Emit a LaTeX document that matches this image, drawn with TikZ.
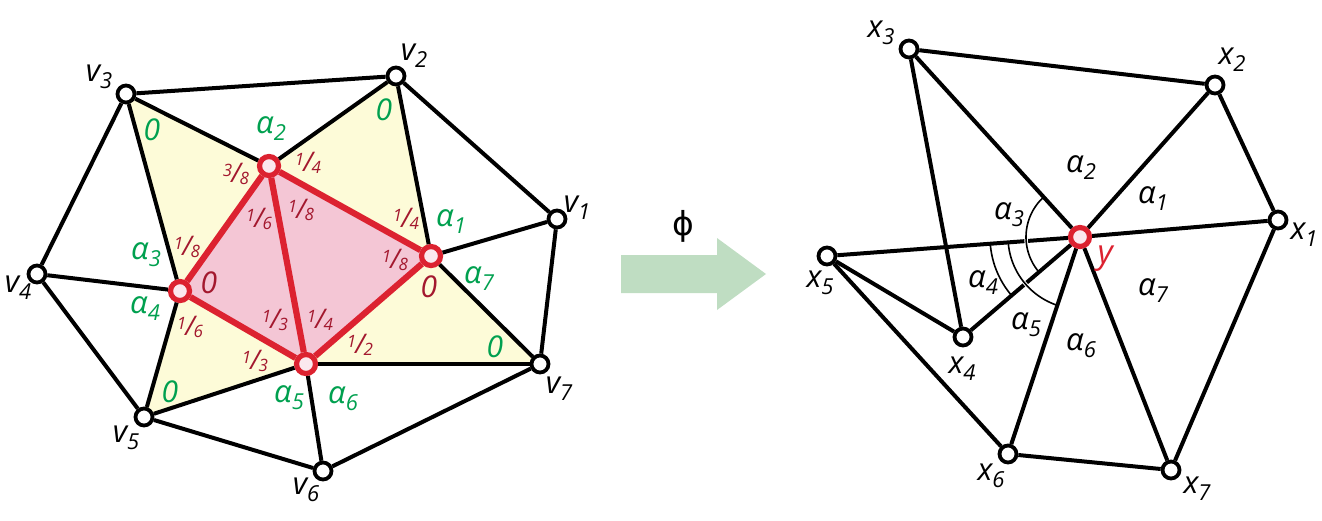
\documentclass[tikz,border=0pt]{standalone}
\usepackage{fontspec}
\setmainfont{Open Sans}
\newfontfamily\phifont{DejaVu Sans}
\usetikzlibrary{backgrounds}
\definecolor{grn}{HTML}{00A04F}
\definecolor{dred}{HTML}{A3182E}
\definecolor{rd}{HTML}{DC2230}
\definecolor{yel}{HTML}{FDFBD8}
\definecolor{pnk}{HTML}{F4C6D5}
\definecolor{arrowg}{HTML}{BFDDC2}
\newcommand{\lbl}[2]{\textit{\fontsize{31}{31}\selectfont #1\raisebox{-7pt}{\fontsize{22}{22}\selectfont #2}}}
\newcommand{\frc}[2]{\textit{\fontsize{17}{17}\selectfont\raisebox{4pt}{#1}\kern-1pt\raisebox{-2.5pt}{\fontsize{27}{27}\selectfont /}\kern-1pt\raisebox{-4pt}{#2}}}
\tikzset{
  vtx/.style={circle,draw=black,fill=white,line width=3.8pt,minimum size=17pt,inner sep=0pt},
  hub/.style={circle,draw=rd,fill=pnk!40!white,line width=5.2pt,minimum size=19pt,inner sep=0pt},
  edge/.style={draw=black,line width=4pt},
  redge/.style={draw=rd,line width=6.2pt},
  thin arc/.style={draw=black,line width=1.6pt},
  halo/.style={draw=white,line width=3.5pt},
  txt/.style={inner sep=0pt,black},
  glab/.style={inner sep=0pt,text=grn},
  flab/.style={inner sep=0pt,text=dred},
  rlab/.style={inner sep=0pt,text=rd},
  zero/.style={inner sep=0pt,font=\itshape\fontsize{30}{30}\selectfont}
}
\begin{document}
\begin{tikzpicture}[x=1pt,y=-1pt]
\useasboundingbox (0,0) rectangle (1322,520);
% left nodes
\node[vtx] (v1) at (557,219) {};
\node[vtx] (v2) at (396,76) {};
\node[vtx] (v3) at (126,94) {};
\node[vtx] (v4) at (37,274) {};
\node[vtx] (v5) at (144,417) {};
\node[vtx] (v6) at (323,471) {};
\node[vtx] (v7) at (540,364) {};
\node[hub] (a2) at (269,166) {};
\node[hub] (a1) at (431,256) {};
\node[hub] (a5) at (306,364) {};
\node[hub] (a3) at (180,291) {};
\begin{scope}[on background layer]
\fill[yel] (v3.center) -- (a2.center) -- (v2.center) -- (a1.center) -- (v7.center) -- (a5.center) -- (v5.center) -- (a3.center) -- cycle;
\fill[pnk] (a2.center) -- (a1.center) -- (a5.center) -- (a3.center) -- cycle;
\end{scope}
\foreach \p/\q in {v3/v2,v2/v1,v1/v7,v7/v6,v6/v5,v5/v4,v4/v3,v3/a2,v2/a2,v2/a1,v1/a1,v7/a1,v7/a5,v6/a5,v5/a5,v5/a3,v4/a3,v3/a3}
  \draw[edge] (\p) -- (\q);
\foreach \p/\q in {a2/a1,a1/a5,a5/a3,a3/a2,a2/a5}
  \draw[redge] (\p) -- (\q);
% left labels
\node[txt] (lv1) at (577,208) {\lbl{v}{1}};
\node[txt] (lv2) at (414,56) {\lbl{v}{2}};
\node[txt] (lv3) at (99,77) {\lbl{v}{3}};
\node[txt] (lv4) at (18,288) {\lbl{v}{4}};
\node[txt] (lv5) at (126,438) {\lbl{v}{5}};
\node[txt] (lv6) at (306,490) {\lbl{v}{6}};
\node[txt] (lv7) at (559,389) {\lbl{v}{7}};
\node[glab] (g1) at (451,222) {\lbl{α}{1}};
\node[glab] (g2) at (271,129) {\lbl{α}{2}};
\node[glab] (g3) at (146,255) {\lbl{α}{3}};
\node[glab] (g4) at (145,309) {\lbl{α}{4}};
\node[glab] (g5) at (289,398) {\lbl{α}{5}};
\node[glab] (g6) at (343,399) {\lbl{α}{6}};
\node[glab] (g7) at (479,279) {\lbl{α}{7}};
\node[glab,zero] (z1) at (152,130) {0};
\node[glab,zero] (z2) at (384,110) {0};
\node[glab,zero] (z3) at (495,347) {0};
\node[glab,zero] (z4) at (170,392) {0};
\node[flab,zero] (z5) at (429,287) {0};
\node[flab,zero] (z6) at (209,283) {0};
\node[flab] (f1) at (236,174) {\frc{3}{8}};
\node[flab] (f2) at (308,163) {\frc{1}{4}};
\node[flab] (f3) at (259,219) {\frc{1}{6}};
\node[flab] (f4) at (301,210) {\frc{1}{8}};
\node[flab] (f5) at (406,219) {\frc{1}{4}};
\node[flab] (f6) at (395,260) {\frc{1}{8}};
\node[flab] (f7) at (187,247) {\frc{1}{8}};
\node[flab] (f8) at (190,327) {\frc{1}{6}};
\node[flab] (f9) at (275,320) {\frc{1}{3}};
\node[flab] (f10) at (320,320) {\frc{1}{4}};
\node[flab] (f11) at (360,345) {\frc{1}{2}};
\node[flab] (f12) at (255,361) {\frc{1}{3}};
% arrow
\fill[arrowg] (621,255) -- (717,255) -- (717,238) -- (766,274) -- (717,310) -- (717,293) -- (621,293) -- cycle;
\node[txt] (phi) at (683,226) {\phifont\fontsize{33}{33}\selectfont ϕ};
% right nodes
\node[vtx] (x1) at (1278,220) {};
\node[vtx] (x2) at (1215,85) {};
\node[vtx] (x3) at (909,49) {};
\node[vtx] (x4) at (963,337) {};
\node[vtx] (x5) at (827,256) {};
\node[vtx] (x6) at (1008,454) {};
\node[vtx] (x7) at (1171,470) {};
\node[hub] (y) at (1080,237) {};
\foreach \p/\q in {x3/x2,x2/x1,x1/x7,x7/x6,x6/x5,x5/x4,x4/x3,x3/y,x2/y,x1/y,x7/y,x6/y,x5/y,x4/y}
  \draw[edge] (\p) -- (\q);
% angle arcs
\draw[halo] plot[domain=170:181,samples=6] ({1080+54*cos(\x)},{237+54*sin(\x)});
\draw[halo] plot[domain=134:145,samples=6] ({1080+72*cos(\x)},{237+72*sin(\x)});
\draw[thin arc] plot[domain=139.5:227.7,samples=40,smooth] ({1080+54*cos(\x)},{237+54*sin(\x)});
\draw[thin arc] plot[domain=139.5:175.7,samples=30,smooth] ({1080+90*cos(\x)},{237+90*sin(\x)});
\draw[thin arc] plot[domain=108.4:175.7,samples=40,smooth] ({1080+72*cos(\x)},{237+72*sin(\x)});
% right labels
\node[txt] (lx1) at (1304,235) {\lbl{x}{1}};
\node[txt] (lx2) at (1232,60) {\lbl{x}{2}};
\node[txt] (lx3) at (881,33) {\lbl{x}{3}};
\node[txt] (lx4) at (962,369) {\lbl{x}{4}};
\node[txt] (lx5) at (820,283) {\lbl{x}{5}};
\node[txt] (lx6) at (991,476) {\lbl{x}{6}};
\node[txt] (lx7) at (1197,489) {\lbl{x}{7}};
\node[rlab] (ly) at (1106,259) {\textit{\fontsize{33}{33}\selectfont y}};
\node[txt] (b1) at (1153,199) {\lbl{α}{1}};
\node[txt] (b2) at (1081,168) {\lbl{α}{2}};
\node[txt] (b3) at (1009,215) {\lbl{α}{3}};
\node[txt] (b4) at (983,283) {\lbl{α}{4}};
\node[txt] (b5) at (1026,325) {\lbl{α}{5}};
\node[txt] (b6) at (1081,346) {\lbl{α}{6}};
\node[txt] (b7) at (1153,291) {\lbl{α}{7}};
\end{tikzpicture}
\end{document}
